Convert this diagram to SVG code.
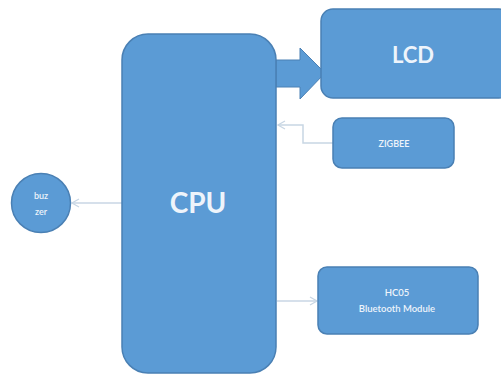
<svg xmlns="http://www.w3.org/2000/svg" width="501" height="374" viewBox="0 0 501 374">
<defs>
<style>
.box{fill:#5b9bd5;stroke:#4a80b4;stroke-width:1.5}
.t{fill:#eef4fb;font-family:Lato,"Open Sans","Liberation Sans",sans-serif;text-anchor:middle}
.s{font-weight:600}
.con{fill:none;stroke:#c8d6e4;stroke-width:1.5}
</style>
<marker id="ah" markerWidth="10" markerHeight="10" refX="8" refY="5" orient="auto" markerUnits="userSpaceOnUse">
<path d="M1,1 L8,5 L1,9" fill="none" stroke="#c8d6e4" stroke-width="1.3"/>
</marker>
</defs>
<rect width="501" height="374" fill="#ffffff"/>
<g id="connectors">
<path class="con" d="M333,143 H303 V125 H278" marker-end="url(#ah)"/>
<path class="con" d="M122,203 H72" marker-end="url(#ah)"/>
<path class="con" d="M277,301 H317" marker-end="url(#ah)"/>
<path d="M276,60 H300 V48 L325,73 L300,99 V87 H276 Z" fill="#5b9bd5" stroke="#4a80b4" stroke-width="1"/>
</g>
<g id="cpu">
<rect class="box" x="122" y="34" width="154" height="339" rx="26"/>
<text class="t" x="198" y="213" font-size="28" font-weight="700">CPU</text>
</g>
<g id="lcd">
<rect class="box" x="321" y="9" width="190" height="89" rx="12"/>
<text class="t" x="413" y="63" font-size="22" font-weight="700">LCD</text>
</g>
<g id="zigbee">
<rect class="box" x="333" y="118" width="121" height="50" rx="9"/>
<text class="t s" x="394" y="147" font-size="9">ZIGBEE</text>
</g>
<g id="buzzer">
<circle class="box" cx="41" cy="203" r="29.5"/>
<text class="t s" x="41" y="199" font-size="9">buz</text>
<text class="t s" x="41" y="215" font-size="9">zer</text>
</g>
<g id="hc05">
<rect class="box" x="318" y="267" width="160" height="67" rx="9"/>
<text class="t s" x="397" y="296" font-size="9.5">HC05</text>
<text class="t s" x="397" y="312" font-size="9.5">Bluetooth Module</text>
</g>
</svg>
